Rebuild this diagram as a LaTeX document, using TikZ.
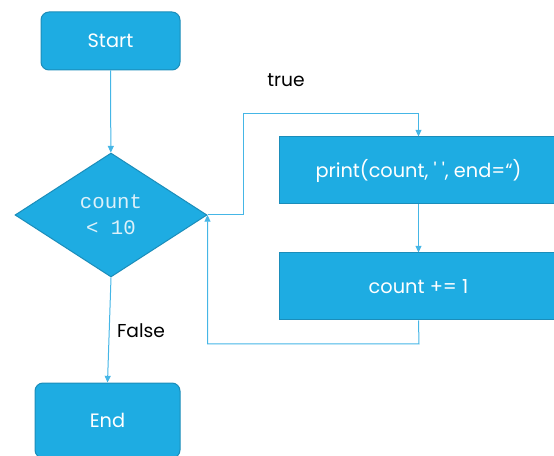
\documentclass[tikz,border=0pt]{standalone}
\usepackage{fontspec}
\setmainfont{Poppins}
\setmonofont{Liberation Mono}
\usetikzlibrary{shapes.geometric,arrows.meta}

\definecolor{flowblue}{HTML}{1EACE2}
\definecolor{flowedge}{HTML}{1B8DBA}
\definecolor{flowline}{HTML}{45B6E6}
\definecolor{flowtext}{HTML}{DDF1FA}

\begin{document}
\begin{tikzpicture}[x=0.75pt, y=-0.75pt]
  \tikzstyle{box} = [fill=flowblue, draw=flowedge, line width=0.75pt,
  text=white, inner sep=0pt, align=center,
  font=\fontsize{14.5}{17}\selectfont];
  \tikzstyle{term} = [box, rounded corners=6pt, minimum height=43.5pt];
  \tikzstyle{proc} = [box, minimum width=209.25pt, minimum height=50.25pt];
  \tikzstyle{cond} = [box, diamond, minimum width=144pt, minimum height=93pt,
  text=flowtext, font=\ttfamily\fontsize{15.5}{19.5}\selectfont];
  \tikzstyle{a} = [draw=flowline, line width=0.75pt,
  -{Triangle[length=5pt, width=4.5pt]}];
  \tikzstyle{lbl} = [font=\fontsize{14}{17}\selectfont, inner sep=0pt];

  \clip (0,0) rectangle (554,456);

  \node[term, minimum width=104.25pt] (start) at (110.5, 41) {Start};
  \node[cond] (test) at (111, 215) {count\\< 10};

  \node[proc] (print) at (418.5, 170.5)
    {print(count, \textquotesingle\ \textquotesingle, end=“)};
  \node[proc] (incr) at (418.5, 286.5) {count += 1};

  \node[term, minimum width=108.75pt, minimum height=56.25pt] (end)
    at (107.5, 420.5) {End};

  \node[lbl] (ltrue) at (286, 80) {true};
  \node[lbl] (lfalse) at (141, 331) {False};

  \coordinate (up) at (243, 114);
  \coordinate (back) at (419, 344);

  \draw[a] (start) to (test);
  \draw[a] (test.east) -| (up) -| (print.north);
  \draw[a] (print) to (incr);
  \draw[a] (incr.south) -- (back) -| (test.east);
  \draw[a] (test.south) to (end.north);
\end{tikzpicture}
\end{document}
